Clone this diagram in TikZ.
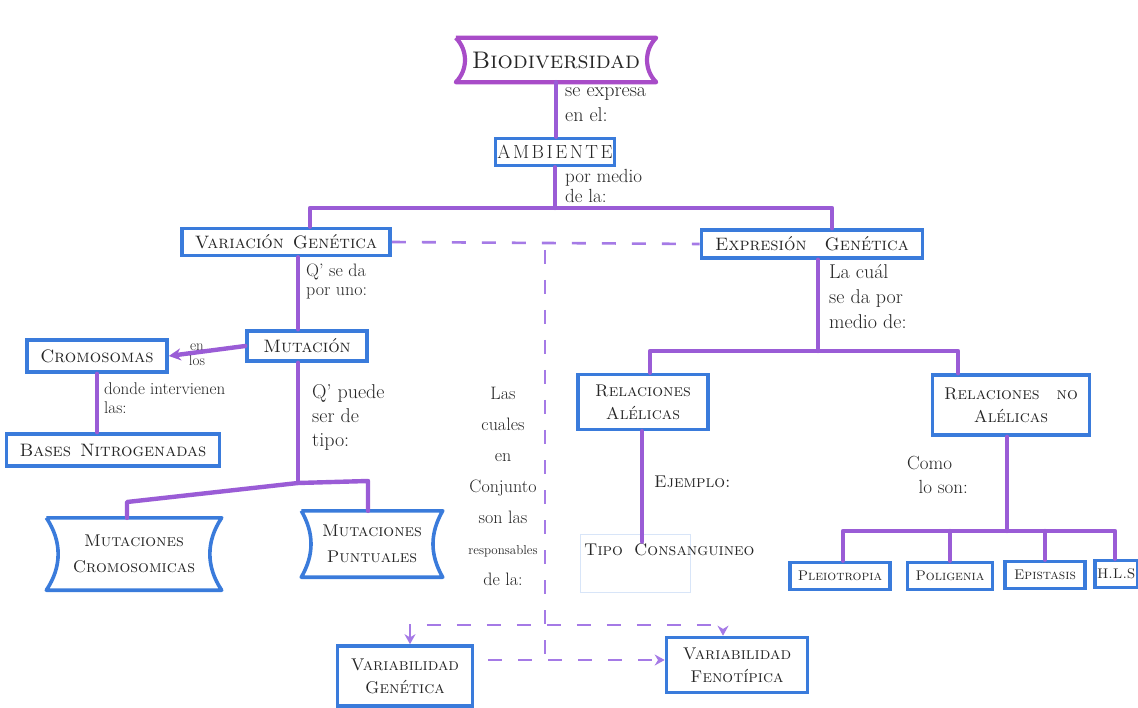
\documentclass[tikz,border=0pt]{standalone}
\usepackage{fontspec}
\usetikzlibrary{arrows.meta}
\definecolor{lnk}{HTML}{9A5CD6}
\definecolor{bx}{HTML}{3A7BDB}
\definecolor{mag}{HTML}{A84CC8}
\definecolor{ink}{HTML}{262626}
\definecolor{dsh}{HTML}{A57AE6}
\tikzset{
  box/.style={draw=bx, line width=3.6pt, inner sep=2pt, align=center, text=ink,
    font=\fontsize{18}{23}\selectfont\scshape},
  box2/.style={box, font=\fontsize{17}{23}\selectfont\scshape},
  leaf/.style={box, font=\fontsize{14}{17}\selectfont\scshape},
  banner/.style={draw=none, inner sep=2pt, align=center, text=ink,
    font=\fontsize{17}{26}\selectfont\scshape},
  bline/.style={draw=bx, line width=3.6pt, line join=round},
  lbl/.style={text=ink, align=left, inner sep=1pt, font=\fontsize{20}{25}\selectfont},
  link/.style={draw=lnk, line width=4.4pt, line cap=round, line join=round},
  dlink/.style={draw=dsh, line width=2.6pt, dash pattern=on 14pt off 16pt},
  tipa/.style={-{Stealth[length=12pt,width=12pt]}},
  dboth/.style={{Stealth[length=10pt,width=11pt]}-{Stealth[length=10pt,width=11pt]}},
  dend/.style={-{Stealth[length=10pt,width=11pt]}},
}
\begin{document}
\begin{tikzpicture}[x=1pt,y=-1pt]
\fill[white] (0,0) rectangle (1138,708);
\useasboundingbox (0,0) rectangle (1138,708);
\clip (0,0) rectangle (1138,708);

% ---------- nodes ----------
\node[banner, minimum width=200, minimum height=44, font=\fontsize{24}{26}\selectfont\scshape] (bio) at (556,60) {Biodiversidad};
\node[draw=bx, line width=3.6pt, inner sep=2pt, text=ink, minimum width=118, minimum height=27, font=\fontsize{19}{21}\selectfont\upshape] (amb) at (555,152) {A\kern2.5pt M\kern2.5pt B\kern2.5pt I\kern2.5pt E\kern2.5pt N\kern2.5pt T\kern2.5pt E};
\node[box, minimum width=208, minimum height=27] (var) at (286,242) {Variación\enspace Genética};
\node[box, minimum width=221, minimum height=28] (exp) at (812,244) {Expresión\quad Genética};
\node[box, minimum width=120, minimum height=30] (mut) at (307,346) {Mutación};
\node[box, minimum width=140, minimum height=32] (cro) at (97,356) {Cromosomas};
\node[box, minimum width=213, minimum height=32] (bas) at (113,450) {Bases\enspace Nitrogenadas};
\node[banner, minimum width=175, minimum height=72] (mcr) at (134,554) {Mutaciones\\Cromosomicas};
\node[banner, minimum width=141, minimum height=66] (mpu) at (372,544) {Mutaciones\\Puntuales};
\node[box2, minimum width=130, minimum height=55] (ral) at (643,402) {Relaciones\\Alélicas};
\node[box2, minimum width=157, minimum height=60] (rna) at (1011,405) {Relaciones\quad no\\Alélicas};
\node[draw=bx!20, line width=1pt, minimum width=110, minimum height=58] (tipb) at (635,563) {};
\node[banner, anchor=west] (tip) at (582,550) {Tipo\; Consanguineo};
\node[leaf, minimum width=100, minimum height=27] (ple) at (840,576) {Pleiotropia};
\node[leaf, minimum width=85, minimum height=27] (pol) at (950,576) {Poligenia};
\node[leaf, minimum width=80, minimum height=27] (epi) at (1045,575) {Epistasis};
\node[leaf, minimum width=43, minimum height=27, inner sep=1pt, anchor=west] (hls) at (1093,574) {H.L.S};
\node[box2, minimum width=135, minimum height=60] (vgen) at (405,676) {Variabilidad\\Genética};
\node[box2, minimum width=141, minimum height=55] (vfen) at (737,665) {Variabilidad\\Fenotípica};

% banner outlines
\draw[bline, draw=mag, line width=4.2pt] (bio.north west) -- (bio.north east) to[bend right=45] (bio.south east) -- (bio.south west) to[bend right=45] (bio.north west);
\draw[bline] (mcr.north west) -- (mcr.north east) to[bend right=34] (mcr.south east) -- (mcr.south west) to[bend right=34] (mcr.north west);
\draw[bline] (mpu.north west) -- (mpu.north east) to[bend right=30] (mpu.south east) -- (mpu.south west) to[bend right=30] (mpu.north west);

% ---------- link labels ----------
\node[lbl, anchor=north west] (l1) at (564,86) {se expresa\\en el:};
\node[lbl, anchor=north west, font=\fontsize{19}{20}\selectfont] (l2) at (564,168) {por medio\\de la:};
\node[lbl, anchor=north west, font=\fontsize{18}{19}\selectfont] (l3) at (305,263) {Q' se da\\por uno:};
\node[lbl, anchor=center, align=center, font=\fontsize{15}{15}\selectfont] (l4) at (197,355) {en\\los};
\node[lbl, anchor=north west, font=\fontsize{17}{19}\selectfont] (l5) at (103,382) {donde intervienen\\las:};
\node[lbl, anchor=north west, font=\fontsize{20}{24}\selectfont] (l6) at (311,383) {Q' puede\\ser de\\tipo:};
\node[lbl, anchor=north west] (l7) at (828,263) {La cuál\\se da por\\medio de:};
\node[lbl, anchor=west, font=\fontsize{17}{19}\selectfont\scshape] (l8) at (653,482) {Ejemplo:};
\node[lbl, anchor=north west, font=\fontsize{19}{24}\selectfont] (l9) at (906,455) {Como\\\ \ lo son:};
\node[lbl, anchor=north, align=center, font=\fontsize{18}{31}\selectfont] (l10) at (503,386)
  {Las\\cuales\\en\\Conjunto\\son las\\{\fontsize{13}{31}\selectfont responsables}\\de la:};

% ---------- helper coordinates ----------
\coordinate (j1) at (555,208);
\coordinate (xva) at (310,0);
\coordinate (xex) at (832,0);
\coordinate (xvm) at (298,0);
\coordinate (j2) at (298,483);
\coordinate (jl) at (127,502);
\coordinate (jr) at (368,481);
\coordinate (xes) at (818,0);
\coordinate (j3) at (818,351);
\coordinate (xra) at (650,0);
\coordinate (xrn) at (958,0);
\coordinate (xrt) at (642,0);
\coordinate (xrb) at (1007,0);
\coordinate (j4) at (1007,531);
\coordinate (xp1) at (843,0);
\coordinate (xp4) at (1115,0);
\coordinate (dv) at (545,250);
\coordinate (dvb) at (545,662);
\coordinate (dl) at (410,625);
\coordinate (dr) at (723,625);
\coordinate (dlo) at (488,660);

% ---------- solid connectors ----------
\draw[link] (bio.south) -- (bio.south |- amb.north);
\draw[link] (amb.south) -- (j1);
\draw[link] (var.north -| xva) |- (j1) -| (exp.north -| xex);
\draw[link] (var.south -| xvm) -- (mut.north -| xvm);
\draw[link, tipa] (mut.west) -- (cro.east);
\draw[link] (cro.south) -- (cro.south |- bas.north);
\draw[link] (mut.south -| xvm) -- (j2);
\draw[link] (mcr.north -| jl) -- (jl) -- (j2) -- (jr) -- (mpu.north -| jr);
\draw[link] (exp.south -| xes) -- (j3);
\draw[link] (ral.north -| xra) |- (j3) -| (rna.north -| xrn);
\draw[link] (ral.south -| xrt) -- (tip.north -| xrt);
\draw[link] (rna.south -| xrb) -- (j4);
\draw[link] (ple.north -| xp1) |- (j4) -| (hls.north -| xp4);
\draw[link] (pol.north) -- (pol.north |- j4);
\draw[link] (epi.north) -- (epi.north |- j4);

% ---------- dashed connectors ----------
\draw[dlink] (var.east) -- (exp.west);
\draw[dlink] (dv) -- (dvb);
\draw[dlink, dboth] (vgen.north -| dl) -- (dl) -- (dr) -- (vfen.north -| dr);
\draw[dlink, dend] (dlo) -- (vfen.west |- dlo);
\end{tikzpicture}
\end{document}
